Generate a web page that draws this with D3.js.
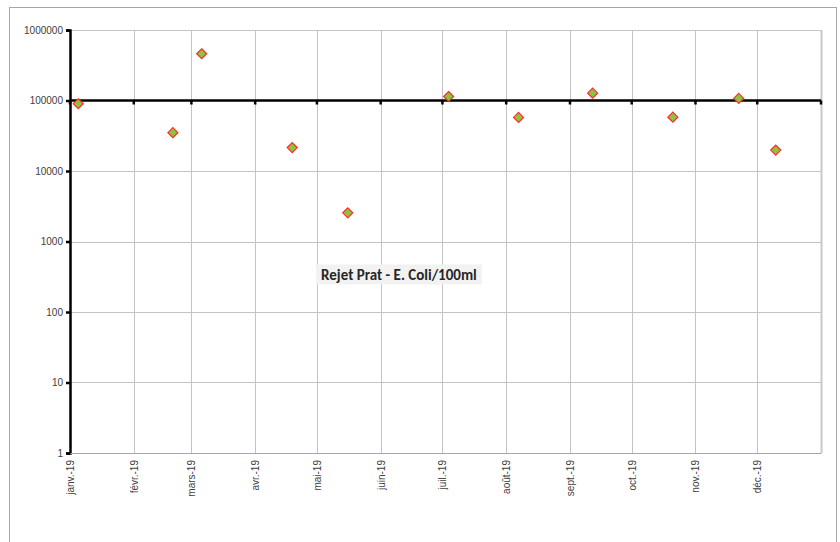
<!DOCTYPE html>
<html lang="fr">
<head>
    <meta charset="UTF-8">
    <title>Rejet Prat - E. Coli/100ml</title>
    <script src="https://d3js.org/d3.v7.min.js"></script>
    <style>
        body { margin: 0; background: #fff; }
        svg { display: block; }
    </style>
</head>
<body>
    <div id="chart"></div>
    <script>
        // sampling dates and E. coli counts (per 100 ml)
        const dates = ["2019-01-05", "2019-02-20", "2019-03-06", "2019-04-19", "2019-05-16", "2019-07-04",
                       "2019-08-07", "2019-09-12", "2019-10-21", "2019-11-22", "2019-12-10"];
        const values = [90000, 35000, 460000, 21500, 2550, 114000, 57500, 127000, 58000, 107000, 19800];
        const yTicks = [1, 10, 100, 1000, 10000, 100000, 1000000];
        const monthLabels = ["janv.-19", "févr.-19", "mars-19", "avr.-19", "mai-19", "juin-19",
                             "juil.-19", "août-19", "sept.-19", "oct.-19", "nov.-19", "déc.-19"];
        const limit = 100000;
        const title = "Rejet Prat - E. Coli/100ml";

        const W = 840, H = 542;
        const margin = { top: 30, right: 19, bottom: 89, left: 70 };
        const width = W - margin.left - margin.right;
        const height = H - margin.top - margin.bottom;

        const parse = d3.timeParse("%Y-%m-%d");
        const points = dates.map((d, i) => ({ date: parse(d), value: values[i] }));
        const months = d3.timeMonths(new Date(2019, 0, 1), new Date(2020, 0, 1));

        const svg = d3.select("#chart").append("svg").attr("width", W).attr("height", H);

        // outer chart border
        svg.append("rect")
            .attr("x", 9.5).attr("y", 7.5).attr("width", 827).attr("height", 560)
            .attr("fill", "none").attr("stroke", "#a6a6a6");

        const g = svg.append("g").attr("transform", `translate(${margin.left},${margin.top})`);

        const x = d3.scaleTime()
            .domain([new Date(2019, 0, 1), new Date(2020, 0, 1)])
            .range([0, width]);

        const y = d3.scaleLog()
            .domain([1, 1000000])
            .range([height, 0]);

        // gridlines
        g.selectAll(".vgrid")
            .data(months)
            .enter().append("line")
            .attr("x1", d => Math.round(x(d)) + 0.5).attr("x2", d => Math.round(x(d)) + 0.5)
            .attr("y1", 0).attr("y2", height)
            .attr("stroke", "#c4c4c4");

        g.selectAll(".hgrid")
            .data(yTicks)
            .enter().append("line")
            .attr("x1", 0).attr("x2", width)
            .attr("y1", d => Math.round(y(d)) + 0.5).attr("y2", d => Math.round(y(d)) + 0.5)
            .attr("stroke", "#c4c4c4");

        // right edge of plot area
        g.append("line")
            .attr("x1", width + 0.5).attr("x2", width + 0.5)
            .attr("y1", 0).attr("y2", height)
            .attr("stroke", "#c8c8c8").attr("stroke-width", 2);

        // y axis
        const yAxis = g.append("g")
            .call(d3.axisLeft(y).tickValues(yTicks).tickFormat(d3.format("d")).tickSize(4).tickPadding(3));
        yAxis.select(".domain").attr("stroke", "#000").attr("stroke-width", 2.5);
        yAxis.selectAll(".tick line").attr("stroke", "#000").attr("stroke-width", 2.5);
        yAxis.selectAll("text")
            .attr("font-family", "Liberation Sans, Arial, sans-serif")
            .attr("font-size", 10).attr("fill", "#404040");

        // x labels (month starts), rotated
        const xAxis = g.append("g")
            .attr("transform", `translate(0,${height})`)
            .call(d3.axisBottom(x).tickValues(months).tickFormat((d, i) => monthLabels[i]).tickSize(0));
        xAxis.select(".domain").attr("stroke", "#a6a6a6").attr("stroke-width", 1);
        xAxis.selectAll("text")
            .attr("font-family", "Liberation Sans, Arial, sans-serif")
            .attr("font-size", 10).attr("fill", "#404040")
            .attr("transform", "rotate(-90)")
            .attr("text-anchor", "end")
            .attr("x", -7).attr("y", 0).attr("dy", "0.35em");

        // limit line at 100000 with its ticks
        g.append("line")
            .attr("x1", 0).attr("x2", width)
            .attr("y1", y(limit)).attr("y2", y(limit))
            .attr("stroke", "#000").attr("stroke-width", 2.5);
        g.selectAll(".ltick")
            .data(months.concat([new Date(2020, 0, 1)]))
            .enter().append("line")
            .attr("x1", d => x(d)).attr("x2", d => x(d))
            .attr("y1", y(limit)).attr("y2", y(limit) + 4)
            .attr("stroke", "#000").attr("stroke-width", 2.5);

        // title box
        const label = g.append("g").attr("transform", `translate(${width * 0.438},${y(1000) + 38})`);
        const labelRect = label.append("rect").attr("fill", "#f2f2f2");
        const labelText = label.append("text")
            .attr("text-anchor", "middle")
            .attr("font-family", "Carlito, Lato, sans-serif")
            .attr("font-weight", "bold")
            .attr("font-size", 15)
            .attr("fill", "#262626")
            .text(title);
        const bb = labelText.node().getBBox();
        labelRect.attr("x", bb.x - 5).attr("y", bb.y - 1).attr("width", bb.width + 10).attr("height", bb.height + 2);

        // diamonds
        const r = 5;
        g.selectAll(".pt")
            .data(points)
            .enter().append("path")
            .attr("d", d => {
                const cx = x(d.date), cy = y(d.value);
                return `M${cx},${cy - r}L${cx + r},${cy}L${cx},${cy + r}L${cx - r},${cy}Z`;
            })
            .attr("fill", "#8cc43f")
            .attr("stroke", "#ff2a2a")
            .attr("stroke-width", 1.2);
    </script>
</body>
</html>
